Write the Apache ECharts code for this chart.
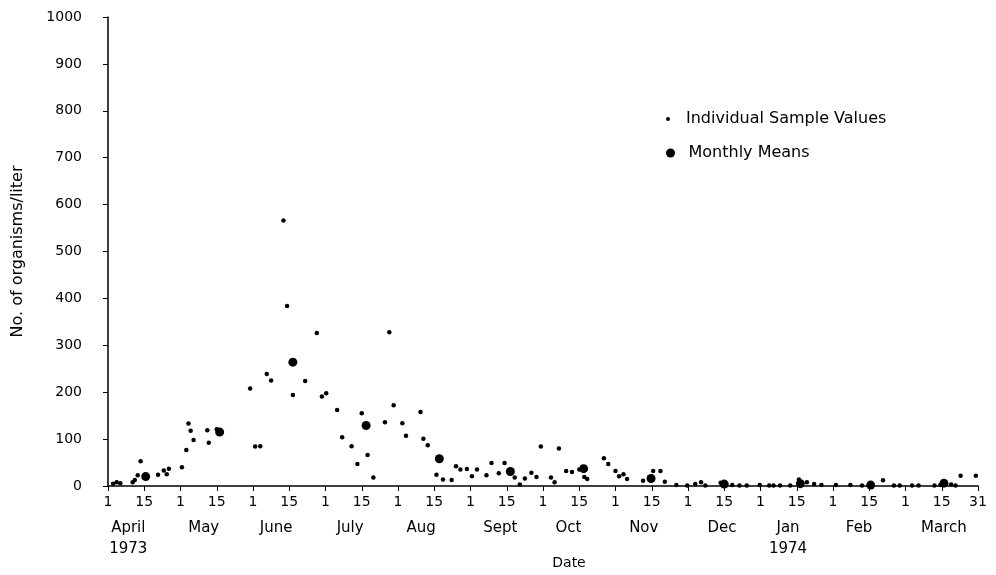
<!DOCTYPE html>
<html>
<head>
<meta charset="utf-8">
<script src="https://cdn.jsdelivr.net/npm/echarts@6/dist/echarts.min.js"></script>
<style>
html,body{margin:0;padding:0;background:#fff;}
#chart{width:996px;height:575px;}
</style>
</head>
<body>
<div id="chart"></div>
<script>
// x in months since April 1, 1973 (0 = April 1, 0.5 = April 15, 12 = March 31)
const sampleMonth = [0.07,0.12,0.17,0.34,0.37,0.41,0.45,0.69,0.77,0.81,0.84,1.02,1.08,1.11,1.14,1.18,1.37,1.39,1.50,
  1.96,2.03,2.10,2.19,2.25,2.42,2.47,2.55,2.72,2.88,2.95,3.01,3.16,3.23,3.36,3.44,3.50,3.58,3.66,3.82,3.88,3.94,
  4.06,4.11,4.31,4.35,4.41,4.53,4.62,4.74,4.80,4.86,4.95,5.02,5.09,5.22,5.29,5.39,5.47,5.61,5.68,5.75,5.84,5.91,5.97,
  6.11,6.16,6.22,6.32,6.40,6.50,6.57,6.61,6.84,6.90,7.00,7.05,7.11,7.16,7.38,7.52,7.62,7.68,7.84,7.99,
  8.10,8.18,8.24,8.45,8.61,8.71,8.81,8.99,9.12,9.18,9.27,9.41,9.53,9.64,9.74,9.84,
  10.04,10.24,10.40,10.69,10.84,10.92,11.09,11.18,11.40,11.48,11.63,11.69,11.76,11.97];
const sampleValue = [5,8,6,8,13,23,53,24,33,25,37,40,77,133,118,98,119,92,121,
  208,84,85,239,225,566,384,194,224,326,191,198,162,104,85,47,155,66,18,136,328,172,
  134,107,158,101,87,24,14,13,42,35,36,21,35,23,49,27,49,18,3,16,28,19,84,
  18,8,80,32,30,35,19,15,59,47,32,21,25,15,11,32,32,9,2,1,
  4,8,1,7,2,1,1,2,1,1,1,1,14,8,4,2,
  2,2,1,12,1,1,1,1,1,2,3,1,22,22];
const meanMonth = [0.52,1.54,2.55,3.56,4.57,5.55,6.56,7.49,8.50,9.55,10.52,11.53];
const meanValue = [20,115,264,129,58,31,37,16,4,5,2,6];

const monthNames = ['April\n1973','May','June','July','Aug','Sept','Oct','Nov','Dec','Jan\n1974','Feb','March'];
const monthLabelPos = [0.28,1.32,2.32,3.34,4.32,5.41,6.35,7.39,8.47,9.38,10.36,11.53];
const yTicks = [0,100,200,300,400,500,600,700,800,900,1000];

const FONT = 'DejaVu Sans';
const chart = echarts.init(document.getElementById('chart'), null, {renderer:'canvas'});

const axisLineStyle = {color:'#000', width:1.5};

chart.setOption({
  animation:false,
  backgroundColor:'#fff',
  textStyle:{fontFamily:FONT, color:'#000'},
  grid:{left:108, right:18, top:17, bottom:86, containLabel:false},
  legend:[
    {data:[{name:'Individual Sample Values', icon:'circle'}], left:661, top:106, orient:'vertical',
     itemWidth:26, itemHeight:4, textStyle:{fontFamily:FONT, fontSize:16, color:'#000'}, selectedMode:false},
    {data:[{name:'Monthly Means', icon:'circle'}], left:661, top:140, orient:'vertical',
     itemWidth:26, itemHeight:9, textStyle:{fontFamily:FONT, fontSize:16, color:'#000'}, selectedMode:false}
  ],
  xAxis:[
    {type:'value', min:0, max:12, interval:0.5, position:'bottom',
     name:'Date', nameLocation:'middle', nameGap:70,
     nameTextStyle:{fontFamily:FONT, fontSize:14, color:'#000', padding:[0,0,0,52]},
     axisLine:{show:true, onZero:false, lineStyle:axisLineStyle},
     axisTick:{show:true, length:5, lineStyle:{color:'#000'}},
     splitLine:{show:false},
     axisLabel:{fontFamily:FONT, fontSize:14, color:'#000', margin:9,
       formatter:function(v){ if (Math.abs(v-12)<1e-6) return '31'; return Math.abs(v-Math.round(v))<1e-6 ? '1' : '15'; }}
    },
    {type:'value', min:0, max:12, position:'bottom', gridIndex:0,
     axisLine:{show:false}, axisTick:{show:false}, splitLine:{show:false},
     axisLabel:{fontFamily:FONT, fontSize:15, color:'#000', margin:32, lineHeight:21,
       customValues:monthLabelPos,
       formatter:function(v){
         const i = monthLabelPos.findIndex(p => Math.abs(p-v)<1e-6);
         return i>=0 ? monthNames[i] : '';
       }}
    }
  ],
  yAxis:{type:'value', min:yTicks[0], max:yTicks[yTicks.length-1], interval:100,
    name:'No. of organisms/liter', nameLocation:'middle', nameGap:82,
    nameTextStyle:{fontFamily:FONT, fontSize:16, color:'#000'},
    axisLine:{show:true, lineStyle:axisLineStyle},
    axisTick:{show:true, length:5, lineStyle:{color:'#000'}},
    splitLine:{show:false},
    axisLabel:{fontFamily:FONT, fontSize:14, color:'#000', margin:26,
      formatter:function(v){ return String(v); }}
  },
  series:[
    {name:'Individual Sample Values', type:'scatter', xAxisIndex:0, symbol:'circle', symbolSize:4.5,
     itemStyle:{color:'#000', opacity:1}, data:sampleMonth.map((m,i)=>[m, sampleValue[i]])},
    {name:'Monthly Means', type:'scatter', xAxisIndex:0, symbol:'circle', symbolSize:9,
     itemStyle:{color:'#000', opacity:1}, data:meanMonth.map((m,i)=>[m, meanValue[i]])}
  ]
});
</script>
</body>
</html>
